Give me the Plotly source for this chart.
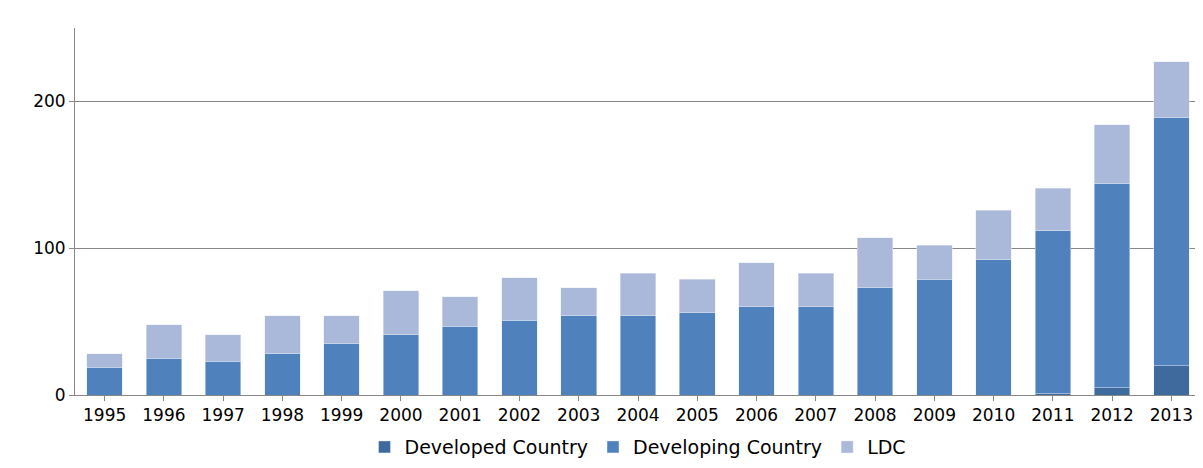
import plotly.graph_objects as go

years = [str(y) for y in range(1995, 2014)]
developed = [0, 0, 0, 0, 0, 0, 0, 0, 0, 0, 0, 0, 0, 0, 0, 0, 1, 5, 20]
developing = [19, 25, 23, 28, 35, 41, 47, 51, 54, 54, 56, 60, 60, 73, 79, 92, 111, 139, 169]
ldc = [9, 23, 18, 26, 19, 30, 20, 29, 19, 29, 23, 30, 23, 34, 23, 34, 29, 40, 38]

fig = go.Figure()
fig.add_bar(x=years, y=developed, name="Developed Country", marker_color="#3f6a9e")
fig.add_bar(x=years, y=developing, name="Developing Country", marker_color="#4f81bd")
fig.add_bar(x=years, y=ldc, name="LDC", marker_color="#aab9d9")

fig.update_layout(
    barmode="stack", bargap=0.4,
    width=1195, height=460,
    paper_bgcolor="white", plot_bgcolor="white",
    font=dict(family="DejaVu Sans", size=17, color="black"),
    margin=dict(l=67, r=2, t=20, b=71),
    legend=dict(orientation="h", traceorder="normal", x=0.5, xanchor="center",
                y=-0.09, yanchor="top", font=dict(size=19)),
    xaxis=dict(showline=True, linecolor="#888", ticks="outside", ticklen=5, tickcolor="#888"),
    yaxis=dict(range=[0, 250], tickvals=[0, 100, 200], showgrid=True, gridcolor="#888",
               showline=True, linecolor="#888", ticks="outside", tickcolor="#888", ticklen=5),
    showlegend=True,
)
fig.write_html("out.html")
